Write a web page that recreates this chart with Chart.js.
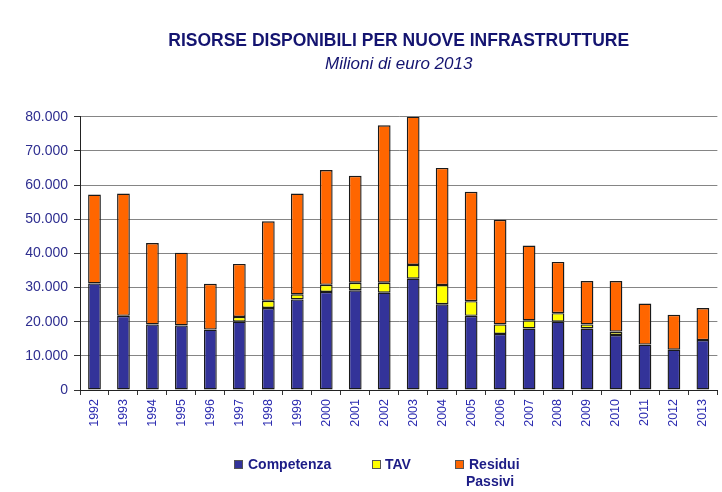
<!DOCTYPE html>
<html>
<head>
<meta charset="utf-8">
<script src="https://cdn.jsdelivr.net/npm/chart.js@4/dist/chart.umd.min.js"></script>
<style>
  html, body { margin: 0; padding: 0; background: #fff; }
  #wrap { position: relative; width: 722px; height: 492px; }
  #legend { position: absolute; left: 0; top: 0; width: 722px; height: 492px; pointer-events: none;
    font-family: "Liberation Sans", Arial, sans-serif; font-weight: bold; font-size: 14px; color: #1c1c86; }
  .item { position: absolute; line-height: 17px; }
  .box { position: absolute; width: 7px; height: 7px; border: 1px solid #555; }
</style>
</head>
<body>
<div id="wrap">
  <canvas id="c" width="722" height="492"></canvas>
  <div id="legend"></div>
</div>
<script>
const categories = ["1992","1993","1994","1995","1996","1997","1998","1999","2000","2001","2002","2003","2004","2005","2006","2007","2008","2009","2010","2011","2012","2013"];
const competenza = [31200,21700,19200,18900,17700,20000,24000,26500,28700,29200,28500,32600,25100,21700,16400,18000,20000,18000,16100,13300,11800,14600];
const tav        = [0,0,0,0,0,1400,2100,1500,2100,2200,2900,4000,5600,4300,2800,2400,2500,1200,1000,0,0,0];
const residui    = [26000,35800,23800,21300,13400,15500,23300,29500,33600,31300,46100,43400,34300,32000,30600,21900,15000,12700,14800,12000,10200,9400];
const seriesNames = ["Competenza","TAV",["Residui","Passivi"]];
const titleText = "RISORSE DISPONIBILI PER NUOVE INFRASTRUTTURE";
const subtitleText = "Milioni di euro 2013";

const colors = ["#333399","#ffff00","#ff6600"];
const fmt = v => String(v).replace(/\B(?=(\d{3})+(?!\d))/g, ".");
const FONT = "'Liberation Sans', Arial, sans-serif";

const mk = (label, data, color) => ({
  label, data, backgroundColor: color, borderColor: "#1a1a1a", borderWidth: 1.4,
  borderSkipped: false, categoryPercentage: 1.0, barPercentage: 0.44
});

new Chart(document.getElementById("c"), {
  type: "bar",
  data: {
    labels: categories,
    datasets: [
      mk("Competenza", competenza, colors[0]),
      mk("TAV", tav, colors[1]),
      mk("Residui Passivi", residui, colors[2])
    ]
  },
  options: {
    responsive: false,
    animation: false,
    layout: { padding: { left: 0, right: 4, top: 0, bottom: 0 } },
    plugins: {
      legend: { display: false },
      tooltip: { enabled: false },
      title: {
        display: true, text: titleText, fullSize: false, color: "#141470",
        font: { family: FONT, size: 17.5, weight: "bold", lineHeight: 1.2 },
        padding: { top: 31, bottom: 3 }
      },
      subtitle: {
        display: true, text: subtitleText, fullSize: false, color: "#141470",
        font: { family: FONT, size: 17, style: "italic", lineHeight: 1.1 },
        padding: { top: 0, bottom: 43 }
      }
    },
    scales: {
      x: {
        stacked: true,
        offset: true,
        afterFit: s => { s.height = 102; },
        grid: { display: true, drawOnChartArea: false, drawTicks: true, tickLength: 5, tickColor: "#333", offset: true },
        border: { display: true, color: "#222", width: 1 },
        ticks: { minRotation: 90, maxRotation: 90, autoSkip: false, padding: 4, color: "#2b2bb0",
                 font: { family: FONT, size: 12.5 } }
      },
      y: {
        stacked: true,
        min: 0, max: 80000,
        afterFit: s => { s.width = 80; },
        grid: { color: "#858585", lineWidth: 1, tickLength: 6, tickColor: "#333" },
        border: { display: true, color: "#222", width: 1 },
        ticks: { stepSize: 10000, padding: 6, color: "#2e2e90", font: { family: FONT, size: 14 },
                 callback: v => fmt(v) }
      }
    }
  }
});

// HTML legend
const leg = document.getElementById("legend");
const pos = [[234, 248], [372, 385], [455, 469]];
seriesNames.forEach((name, i) => {
  const b = document.createElement("div");
  b.className = "box";
  b.style.left = pos[i][0] + "px"; b.style.top = "460px"; b.style.background = colors[i];
  leg.appendChild(b);
  const t = document.createElement("div");
  t.className = "item";
  t.style.left = pos[i][1] + "px"; t.style.top = "456px";
  if (Array.isArray(name)) {
    t.innerHTML = name[0] + "<br><span style='margin-left:-3px'>" + name[1] + "</span>";
  } else {
    t.textContent = name;
  }
  leg.appendChild(t);
});
</script>
</body>
</html>
